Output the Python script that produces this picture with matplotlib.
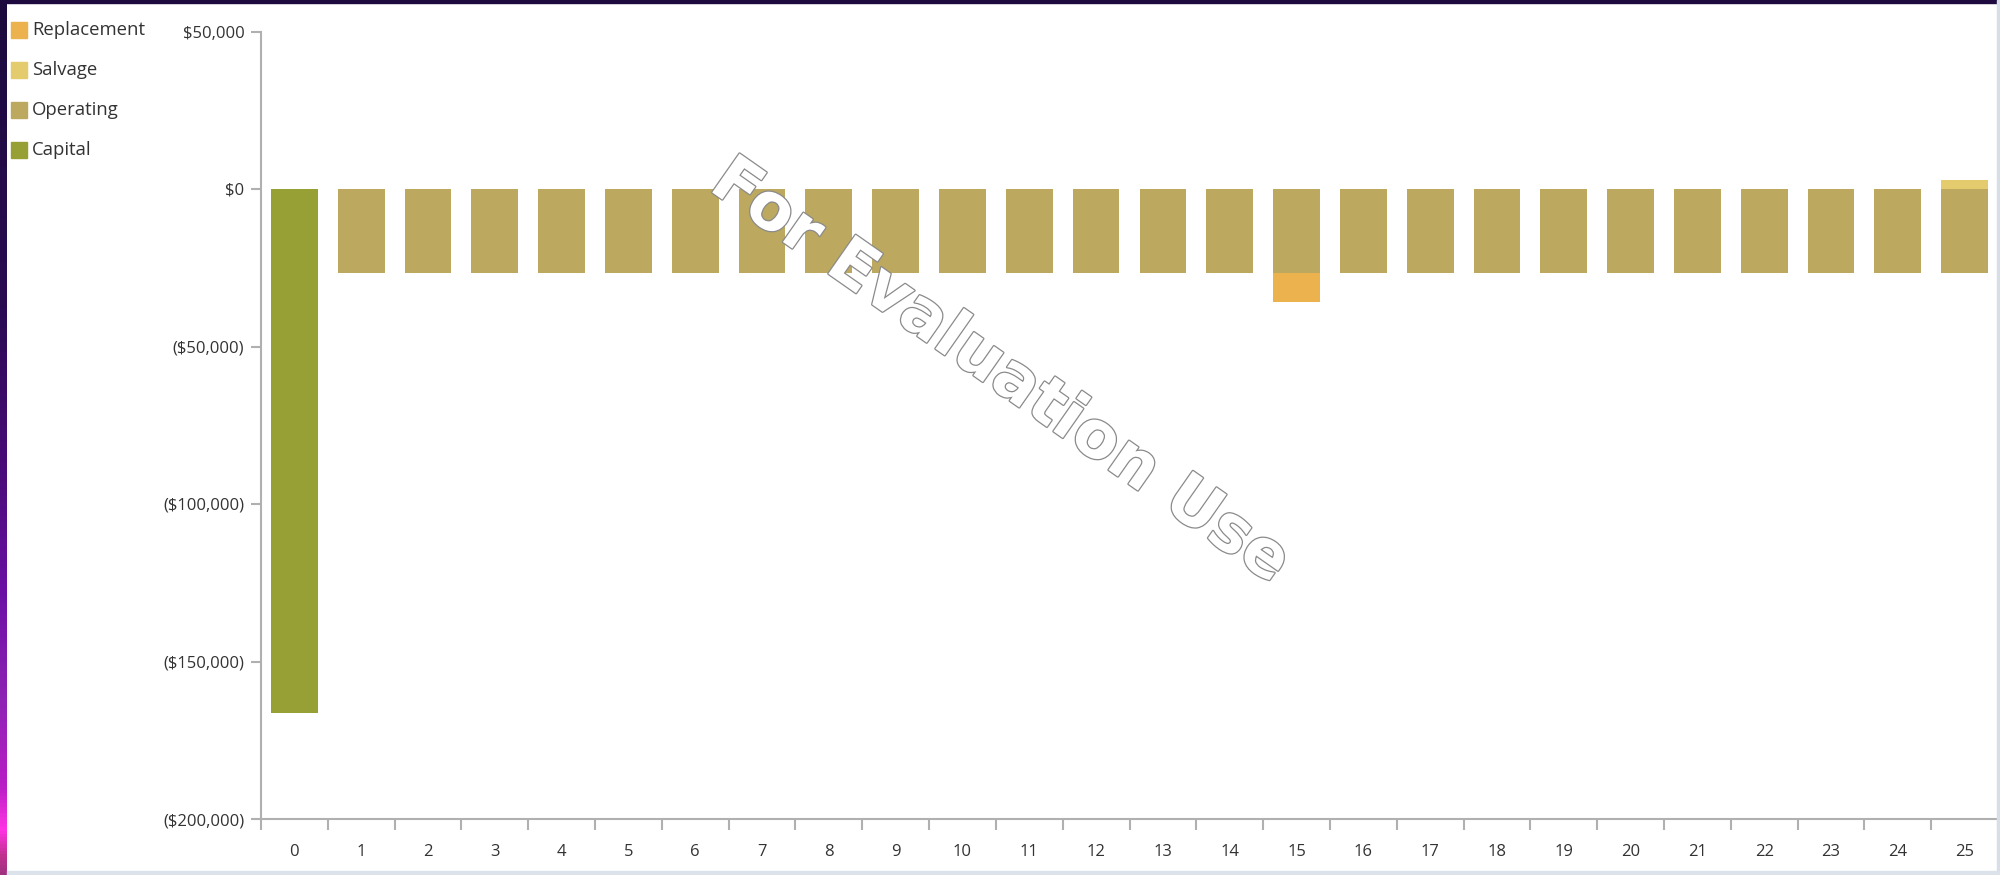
import numpy as np
import matplotlib
matplotlib.use("Agg")
import matplotlib.pyplot as plt
import matplotlib.patheffects as pe
from matplotlib.colors import LinearSegmentedColormap
from matplotlib.patches import Rectangle
from matplotlib.ticker import FuncFormatter, MultipleLocator

plt.rcParams['font.family'] = ['Open Sans', 'DejaVu Sans']

# Nominal cash flow by project year
years = list(range(26))
capital = [-166500] + [0] * 25
operating = [0, -26700, -26700, -26700, -26700, -26700, -26700, -26700, -26700,
             -26700, -26700, -26700, -26700, -26700, -26700, -26700, -26700,
             -26700, -26700, -26700, -26700, -26700, -26700, -26700, -26700, -26700]
replacement = [0] * 15 + [-9200] + [0] * 10
salvage = [0] * 25 + [2900]

series_names = ['Replacement', 'Salvage', 'Operating', 'Capital']
series_colors = ['#EBB24E', '#E3CB6E', '#BCA95F', '#96A035']

fig = plt.figure(figsize=(20, 8.75), dpi=100)
fig.patch.set_facecolor('white')

ax = fig.add_axes([261 / 2000, 56 / 875, 1737 / 2000, 787.5 / 875])

w = 0.7
ax.bar(years, capital, width=w, color=series_colors[3], linewidth=0, zorder=2)
ax.bar(years, operating, width=w, color=series_colors[2], linewidth=0, zorder=2)
ax.bar(years, replacement, width=w, bottom=operating, color=series_colors[0],
       linewidth=0, zorder=2)
ax.bar(years, salvage, width=w, color=series_colors[1], linewidth=0, zorder=2)

ax.set_xlim(-0.5, 25.5)
ax.set_ylim(-200000, 50000)

def money(v, pos):
    if v < 0:
        return f'(${-v:,.0f})'
    return f'${v:,.0f}'

ax.yaxis.set_major_locator(MultipleLocator(50000))
ax.yaxis.set_major_formatter(FuncFormatter(money))
ax.set_xticks(years)
ax.set_xticks(np.arange(-0.5, 26, 1), minor=True)
ax.tick_params(axis='x', which='major', length=0, pad=18, labelsize=12, labelcolor='#333333')
ax.tick_params(axis='x', which='minor', length=8, width=1.5, color='#b0b0b0')
ax.tick_params(axis='y', length=7, width=1.5, color='#b0b0b0', pad=5,
               labelsize=12, labelcolor='#333333')

for s in ['top', 'right']:
    ax.spines[s].set_visible(False)
for s in ['left', 'bottom']:
    ax.spines[s].set_color('#b0b0b0')
    ax.spines[s].set_linewidth(1.5)

# legend down the left edge
for i, (name, col) in enumerate(zip(series_names, series_colors)):
    yc = 1 - (30 + 40 * i) / 875
    fig.patches.append(Rectangle((11 / 2000, yc - 8 / 875), 16 / 2000, 16 / 875,
                                 transform=fig.transFigure, color=col))
    fig.text(32 / 2000, yc, name, ha='left', va='center', fontsize=13.3, color='#333333')

# watermark
fig.text(1000 / 2000, 1 - 372 / 875, 'For Evaluation Use', family='DejaVu Sans',
         weight='bold', fontsize=47, color='white', rotation=-35,
         ha='center', va='center', rotation_mode='anchor',
         path_effects=[pe.Stroke(linewidth=1.8, foreground='#8a8a8a'), pe.Normal()])

# window chrome around the chart
grad = LinearSegmentedColormap.from_list('edge', [
    (0.0, '#1C0A3C'), (0.35, '#2A0A52'), (0.55, '#4C0C7C'), (0.68, '#6C10A4'),
    (0.8, '#8E22B4'), (0.9, '#B81EC4'), (0.95, '#FF34E4'), (0.98, '#C0308E'),
    (1.0, '#A0307E')])
edge = fig.add_axes([0, 0, 7 / 2000, 1])
edge.imshow(np.linspace(0, 1, 256).reshape(-1, 1), aspect='auto', cmap=grad)
edge.axis('off')
fig.patches.append(Rectangle((0, 1 - 3 / 875), 1, 3 / 875, transform=fig.transFigure,
                             color='#1E0A3E'))
fig.patches.append(Rectangle((1997 / 2000, 0), 3 / 2000, 1, transform=fig.transFigure,
                             color='#D8DEE8'))
fig.patches.append(Rectangle((7 / 2000, 0), 1, 4 / 875, transform=fig.transFigure,
                             color='#DCE2EA'))

fig.savefig('out.png', dpi=100)
